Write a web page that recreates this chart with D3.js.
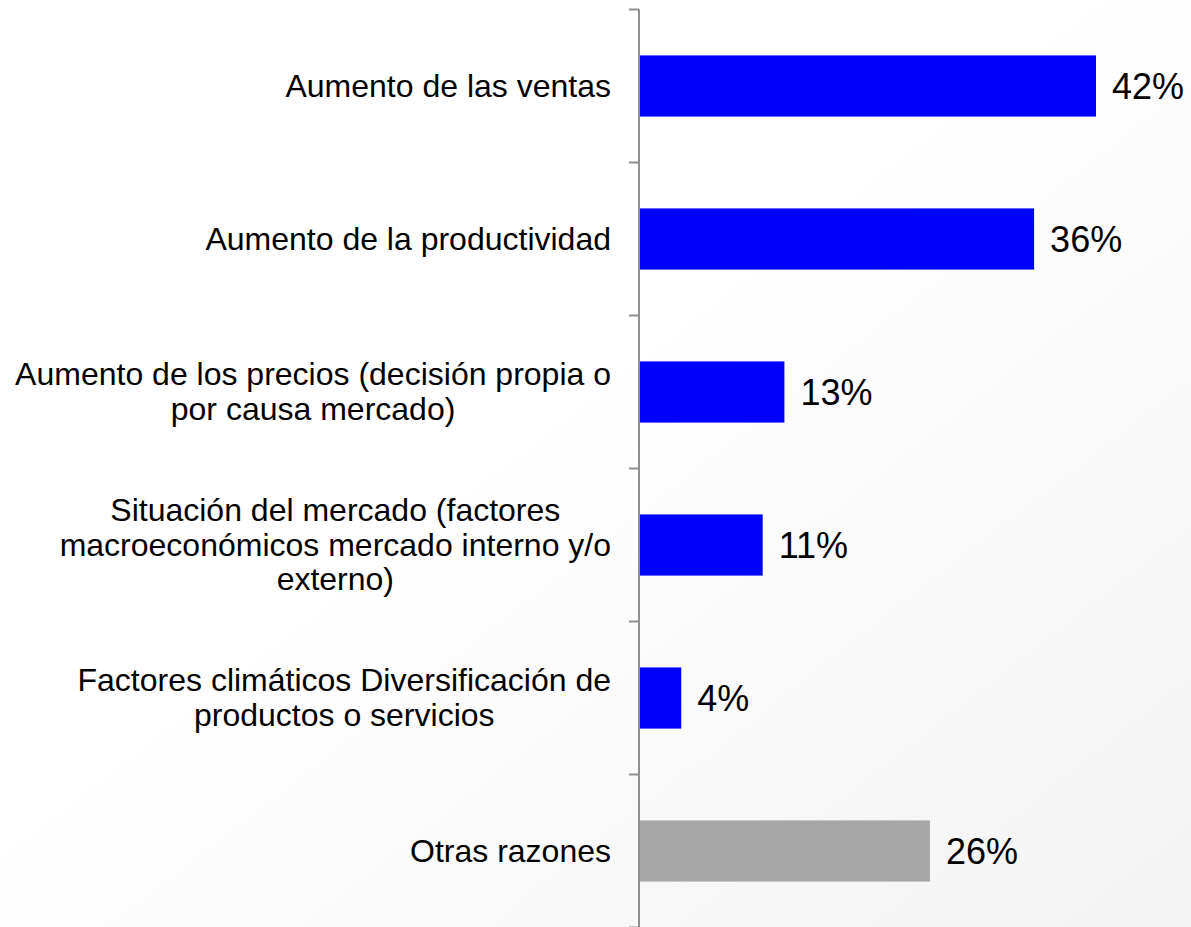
<!DOCTYPE html>
<html>
<head>
<meta charset="utf-8">
<script src="https://cdn.jsdelivr.net/npm/d3@7"></script>
<style>
  html, body { margin: 0; padding: 0; background: #ffffff; }
  svg { display: block; }
</style>
</head>
<body>
<svg id="chart" width="1191" height="927"></svg>
<script>
// ---- data ----
const categories = [
  ["Aumento de las ventas"],
  ["Aumento de la productividad"],
  ["Aumento de los precios (decisión propia o", "por causa mercado)"],
  ["Situación del mercado (factores", "macroeconómicos mercado interno y/o", "externo)"],
  ["Factores climáticos Diversificación de", "productos o servicios"],
  ["Otras razones"]
];
const values = [42, 36.3, 13.3, 11.3, 3.8, 26.7];
const valueLabels = ["42%", "36%", "13%", "11%", "4%", "26%"];
const barColors = ["#0000FF", "#0000FF", "#0000FF", "#0000FF", "#0000FF", "#A6A6A6"];

// ---- layout ----
const W = 1191, H = 927;
const axisX = 639;
const labelRight = 611;
const fontLabel = 32, lineH = 34.5, fontValue = 36;

const svg = d3.select("#chart");

// background gradient
const defs = svg.append("defs");
const grad = defs.append("linearGradient").attr("id", "bg")
  .attr("x1", "0%").attr("y1", "0%").attr("x2", "100%").attr("y2", "100%");
grad.append("stop").attr("offset", "0%").attr("stop-color", "#ffffff");
grad.append("stop").attr("offset", "45%").attr("stop-color", "#ffffff");
grad.append("stop").attr("offset", "100%").attr("stop-color", "#f3f3f3");
svg.append("rect").attr("width", W).attr("height", H).attr("fill", "url(#bg)");

const idx = d3.range(categories.length);
const y = d3.scaleBand().domain(idx).range([9.5, 927.5]).paddingInner(0.6).paddingOuter(0.3);
const x = d3.scaleLinear().domain([0, 42]).range([640, 1096]);

// bars
svg.append("g").selectAll("rect").data(idx).join("rect")
  .attr("x", x(0))
  .attr("y", i => y(i))
  .attr("width", i => x(values[i]) - x(0))
  .attr("height", y.bandwidth())
  .attr("fill", i => barColors[i]);

// axis line and ticks at band boundaries
const step = y.step();
const r0 = y.range()[0], r1 = y.range()[1];
const axisG = svg.append("g");
axisG.append("line")
  .attr("x1", axisX).attr("x2", axisX)
  .attr("y1", r0).attr("y2", r1)
  .attr("stroke", "#8f8f8f").attr("stroke-width", 2);
axisG.selectAll("line.tick").data(d3.range(categories.length + 1)).join("line")
  .attr("class", "tick")
  .attr("x1", axisX - 10).attr("x2", axisX)
  .attr("y1", i => r0 + i * step).attr("y2", i => r0 + i * step)
  .attr("stroke", "#8f8f8f").attr("stroke-width", 2);

// category labels (multi-line, centered within block, block right-aligned)
const labG = svg.append("g")
  .attr("font-family", "'Liberation Sans', Arial, sans-serif")
  .attr("font-size", fontLabel).attr("fill", "#000");
idx.forEach(i => {
  const lines = categories[i];
  const c = y(i) + y.bandwidth() / 2;
  const t = labG.append("text").attr("text-anchor", "middle");
  lines.forEach((ln, k) => {
    t.append("tspan")
      .attr("y", c - (lines.length - 1) * lineH / 2 + k * lineH + 0.33 * fontLabel)
      .text(ln);
  });
  let maxW = 0;
  t.selectAll("tspan").each(function() { maxW = Math.max(maxW, this.getComputedTextLength()); });
  t.selectAll("tspan").attr("x", labelRight - maxW / 2);
});

// value labels
svg.append("g").selectAll("text").data(idx).join("text")
  .attr("x", i => x(values[i]) + 16)
  .attr("y", i => y(i) + y.bandwidth() / 2 + 0.36 * fontValue)
  .attr("font-family", "'Liberation Sans', Arial, sans-serif")
  .attr("font-size", fontValue)
  .attr("fill", "#000")
  .text(i => valueLabels[i]);
</script>
</body>
</html>
